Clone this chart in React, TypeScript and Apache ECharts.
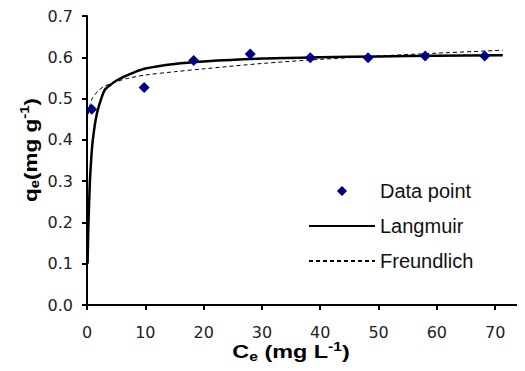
import React, { useEffect, useRef } from "react";
import * as echarts from "echarts";

const xTicks = [0, 10, 20, 30, 40, 50, 60, 70];
const yTicks = [0, 0.1, 0.2, 0.3, 0.4, 0.5, 0.6, 0.7];

const dataCe = [0.8, 9.8, 18.3, 28.0, 38.3, 48.2, 58.0, 68.2];
const dataQe = [0.474, 0.527, 0.592, 0.608, 0.599, 0.599, 0.603, 0.603];

const langCe = [0.1, 0.2, 0.3, 0.5, 0.75, 1, 1.5, 2, 3, 4, 5, 6, 8, 10, 15, 20, 30, 40, 50, 60, 71.3];
const langQe = [0.1, 0.17, 0.22, 0.3, 0.36, 0.4, 0.45, 0.48, 0.52, 0.533, 0.543, 0.551, 0.563, 0.573, 0.584, 0.59, 0.597, 0.6, 0.602, 0.604, 0.605];

const freCe = [0.2, 0.5, 1, 2, 3, 5, 7, 10, 15, 20, 30, 40, 50, 60, 71.3];
const freQe = [0.462, 0.485, 0.503, 0.52, 0.53, 0.541, 0.549, 0.557, 0.565, 0.572, 0.585, 0.595, 0.603, 0.61, 0.617];

const FONT = "Liberation Sans";
const TICK_FONT = "DejaVu Sans";

// diamond centred in a wide box so the legend's 66px-wide icon area does not stretch it
const DIAMOND_ICON = "path://M27.5,5L32.5,0L37.5,5L32.5,10ZM0,5L0,5ZM65,5L65,5Z";

export default function App() {
  const ref = useRef<HTMLDivElement>(null);
  useEffect(() => {
    if (!ref.current) return;
    const chart = echarts.init(ref.current, null, { renderer: "svg" });
    const axisCommon = {
      axisLine: { show: true, onZero: false, lineStyle: { color: "#000", width: 2 } },
      axisTick: { show: true, inside: false, length: 5, lineStyle: { color: "#000", width: 2 } },
      splitLine: { show: false },
      axisLabel: { color: "#222", fontFamily: TICK_FONT, fontSize: 16 },
    };
    const rich = {
      m: { fontFamily: FONT, fontSize: 18, fontWeight: "bold", fill: "#000" },
      s: { fontFamily: FONT, fontSize: 12, fontWeight: "bold", fill: "#000", padding: [9, 0, 0, 0] },
      p: { fontFamily: FONT, fontSize: 12, fontWeight: "bold", fill: "#000", padding: [0, 0, 11, 0] },
    };
    chart.setOption({
      animation: false,
      backgroundColor: "#fff",
      grid: { left: 87, right: 1, top: 16, bottom: 66 },
      xAxis: {
        type: "value",
        min: 0,
        max: 74.6,
        interval: 10,
        ...axisCommon,
        axisLabel: {
          ...axisCommon.axisLabel,
          margin: 19,
          formatter: (v: number) => (xTicks.includes(v) ? String(v) : ""),
        },
      },
      yAxis: {
        type: "value",
        min: yTicks[0],
        max: yTicks[yTicks.length - 1],
        interval: 0.1,
        ...axisCommon,
        axisLabel: {
          ...axisCommon.axisLabel,
          margin: 14,
          formatter: (v: number) => v.toFixed(1),
        },
      },
      legend: {
        orient: "vertical",
        left: 303,
        top: 176,
        itemWidth: 66,
        itemHeight: 11,
        itemGap: 15,
        textStyle: { fontFamily: FONT, fontSize: 20, color: "#111", padding: [0, 0, 0, 0] },
        data: [
          { name: "Data point", icon: DIAMOND_ICON, itemStyle: { color: "#000080", borderWidth: 0, opacity: 1 } },
          { name: "Langmuir", itemStyle: { opacity: 0 } },
          { name: "Freundlich", itemStyle: { opacity: 0 } },
        ],
      },
      graphic: [
        {
          type: "text",
          x: 31,
          y: 150,
          rotation: Math.PI / 2,
          scaleX: 1.25,
          style: {
            text: "{m|q}{s|e}{m|(mg g}{p|-1}{m|)}",
            align: "center",
            verticalAlign: "middle",
            rich,
          },
        },
        {
          type: "text",
          x: 291,
          y: 352,
          scaleX: 1.3,
          style: {
            text: "{m|C}{s|e}{m| (mg L}{p|-1}{m|)}",
            align: "center",
            verticalAlign: "middle",
            rich,
          },
        },
      ],
      series: [
        {
          name: "Freundlich",
          type: "line",
          symbol: "none",
          smooth: 0.3,
          z: 2,
          lineStyle: { color: "#000", width: 1, type: [4, 3] },
          itemStyle: { color: "#000" },
          data: freCe.map((c, i) => [c, freQe[i]]),
        },
        {
          name: "Langmuir",
          type: "line",
          symbol: "none",
          smooth: 0.3,
          z: 3,
          lineStyle: { color: "#000", width: 2.5 },
          itemStyle: { color: "#000" },
          data: langCe.map((c, i) => [c, langQe[i]]),
        },
        {
          name: "Data point",
          type: "scatter",
          symbol: "diamond",
          symbolSize: 11,
          z: 4,
          itemStyle: { color: "#000080", opacity: 1 },
          data: dataCe.map((c, i) => [c, dataQe[i]]),
        },
      ],
    });
    return () => chart.dispose();
  }, []);
  return <div ref={ref} style={{ width: 525, height: 371, margin: -8 }} />;
}
